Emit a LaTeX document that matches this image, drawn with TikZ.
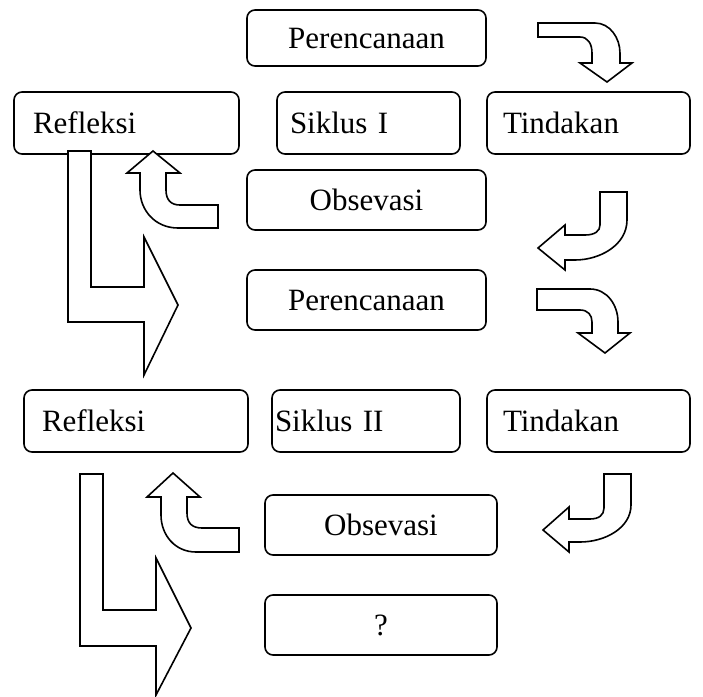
\documentclass[tikz,border=0pt]{standalone}
\usepackage{fontspec}
\setmainfont{Liberation Serif}

\tikzset{
	kotak/.style={draw, thick, rounded corners=4pt, minimum height=30pt, font=\fontsize{15.5}{18}\selectfont},
	kiri/.style={align=left, inner xsep=#1},
	panah/.style={draw, thick, fill=white, line join=miter}
}

\begin{document}
\begin{tikzpicture}[x=0.5pt, y=-0.5pt]
		\useasboundingbox (0,0) rectangle (703,697);

		% Draw boxes of cycle I
		\node[kotak, minimum width=119.5pt, minimum height=28pt] (plan1) at (366.5,38) {Perencanaan};
		\node[kotak, kiri=9.5pt, text width=93.5pt, minimum height=31pt] (refl1) at (126.5,123) {Refleksi};
		\node[kotak, kiri=6.5pt, text width=78.5pt, minimum height=31pt] (sik1) at (368.5,123) {Siklus I};
		\node[kotak, kiri=8pt, text width=85.5pt, minimum height=31pt] (tind1) at (588.5,123) {Tindakan};
		\node[kotak, minimum width=119.5pt] (obs1) at (366.5,200) {Obsevasi};

		% Draw boxes of cycle II
		\node[kotak, minimum width=119.5pt] (plan2) at (366.5,300) {Perencanaan};
		\node[kotak, kiri=9pt, text width=94pt, minimum height=31pt] (refl2) at (136,421) {Refleksi};
		\node[kotak, kiri=1.5pt, text width=91pt, minimum height=31pt] (sik2) at (366,421) {Siklus II};
		\node[kotak, kiri=8pt, text width=85.5pt, minimum height=31pt] (tind2) at (588.5,421) {Tindakan};
		\node[kotak, minimum width=116pt] (obs2) at (381,525) {Obsevasi};
		\node[kotak, minimum width=116pt] (tanya) at (381,625) {?};

		% Draw bent arrows, cycle I
		\draw[panah] (538,23) -- (595,23) .. controls (610,23) and (620,38) .. (620,53) -- (620,63) -- (632,63) -- (607,82) -- (580,63) -- (592,63) -- (592,53) .. controls (592,44) and (588,37) .. (580,37) -- (538,37) -- cycle;
		\draw[panah] (600,192) -- (627,192) -- (627,220) .. controls (627,245) and (600,260) .. (575,260) -- (565,260) -- (565,270) -- (538,248) -- (565,225) -- (565,235) -- (585,235) .. controls (595,235) and (600,231) .. (600,225) -- cycle;
		\draw[panah] (153,151) -- (180,173) -- (166,173) -- (166,190) .. controls (166,200) and (171,205) .. (180,205) -- (218,205) -- (218,228) -- (178,228) .. controls (155,228) and (140,210) .. (140,190) -- (140,173) -- (127,173) -- cycle;
		\draw[panah] (68,151) -- (91,151) -- (91,287) -- (144,287) -- (144,237) -- (178,305) -- (144,375) -- (144,322) -- (68,322) -- cycle;

		% Draw bent arrows, cycle II
		\draw[panah] (537,289) -- (590,289) .. controls (607,289) and (618,305) .. (618,322) -- (618,333) -- (630,333) -- (605,353) -- (578,333) -- (592,333) -- (592,322) .. controls (592,315) and (588,310) .. (580,310) -- (537,310) -- cycle;
		\draw[panah] (604,474) -- (631,474) -- (631,505) .. controls (631,528) and (605,542) .. (580,542) -- (569,542) -- (569,552) -- (543,530) -- (569,507) -- (569,519) -- (590,519) .. controls (599,519) and (604,515) .. (604,508) -- cycle;
		\draw[panah] (173,473) -- (200,497) -- (187,497) -- (187,513) .. controls (187,523) and (192,528) .. (202,528) -- (239,528) -- (239,552) -- (196,552) .. controls (175,552) and (161,535) .. (161,515) -- (161,497) -- (147,497) -- cycle;
		\draw[panah] (80,474) -- (103,474) -- (103,610) -- (156,610) -- (156,558) -- (191,628) -- (156,695) -- (156,646) -- (80,646) -- cycle;
	\end{tikzpicture}
\end{document}
